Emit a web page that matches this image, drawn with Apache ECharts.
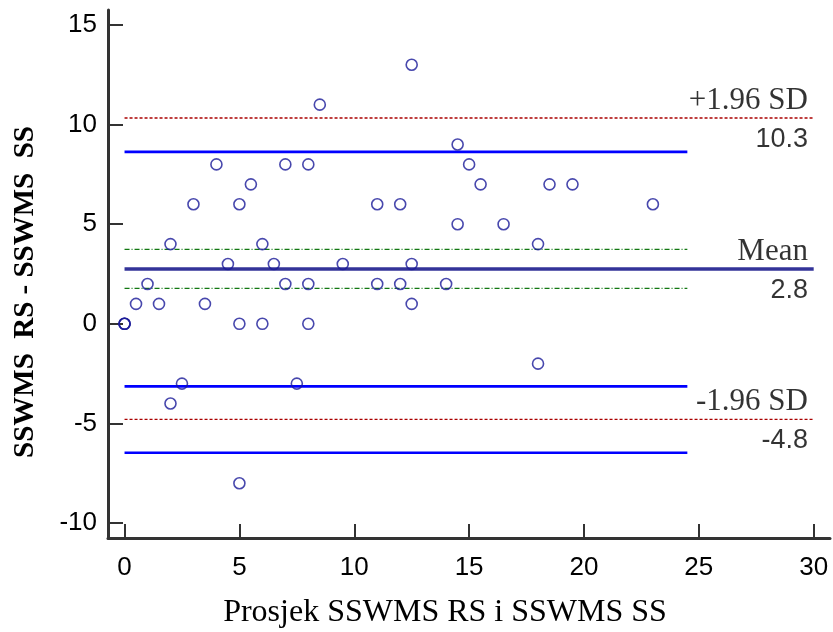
<!DOCTYPE html>
<html>
<head>
<meta charset="utf-8">
<script src="https://cdn.jsdelivr.net/npm/echarts@6/dist/echarts.min.js"></script>
<style>html,body{margin:0;padding:0;background:#fff}#c{width:833px;height:632px}</style>
</head>
<body>
<div id="c"></div>
<script>
// Points: average (x) and difference (y)
const avgValues = [0, 0, 0, 0.5, 1, 1.5, 2, 2, 2.5, 3, 3.5, 4, 4.5, 5, 5, 5, 5.5, 6, 6, 6.5, 7, 7, 7.5, 8, 8, 8, 8.5, 9.5, 11, 11, 12, 12, 12.5, 12.5, 12.5, 14, 14.5, 14.5, 15, 15.5, 16.5, 18, 18, 18.5, 19.5, 23];
const diffValues = [0, 0, 0, 1, 2, 1, 4, -4, -3, 6, 1, 8, 3, 6, 0, -8, 7, 4, 0, 3, 8, 2, -3, 8, 2, 0, 11, 3, 6, 2, 6, 2, 13, 3, 1, 2, 9, 5, 8, 7, 5, 4, -2, 7, 7, 6];

// Reference lines
const meanValue = 2.75;
const upperLoA = 10.33;
const lowerLoA = -4.8;
const meanCI = [3.74, 1.78];
const loaCI = [8.63, -3.14, -6.47];
const fullSpan = [0, 30];
const ciSpan = [0, 24.5];

// Text
const refNames = ['+1.96 SD', 'Mean', '-1.96 SD'];
const refValueLabels = ['10.3', '2.8', '-4.8'];
const xTicks = [0, 5, 10, 15, 20, 25, 30];
const yTicks = [-10, -5, 0, 5, 10, 15];
const xTitle = 'Prosjek SSWMS RS i SSWMS SS';
const yTitle = 'SSWMS  RS - SSWMS  SS';

const SANS = 'Liberation Sans';
const SERIF = 'Liberation Serif';
const axisColor = '#333333';

function hline(v, span, style) {
  return {
    type: 'line', silent: true, symbol: 'none', animation: false,
    data: [[span[0], v], [span[1], v]],
    lineStyle: style, z: 2
  };
}

const refVals = [upperLoA, meanValue, lowerLoA];
const labelX = 29.75;

const series = [];
series.push(hline(upperLoA, fullSpan, {color: '#aa0000', width: 1.3, type: [3, 2]}));
series.push(hline(lowerLoA, fullSpan, {color: '#aa0000', width: 1.3, type: [3, 2]}));
meanCI.forEach(v => series.push(hline(v, ciSpan, {color: '#117711', width: 1.2, type: [5, 2, 1, 2]})));
loaCI.forEach(v => series.push(hline(v, ciSpan, {color: '#0000ff', width: 2.6})));
series.push(hline(meanValue, fullSpan, {color: '#333399', width: 3.5}));

series.push({
  type: 'scatter', animation: false,
  data: avgValues.map((x, i) => [x, diffValues[i]]),
  symbol: 'circle', symbolSize: 11,
  itemStyle: {color: 'rgba(255,255,255,0)', borderColor: '#1a1a99', borderWidth: 1.6},
  z: 5
});

// Name labels above lines
series.push({
  type: 'scatter', silent: true, animation: false, symbolSize: 0,
  data: refVals.map((v, i) => ({value: [labelX, v], name: refNames[i]})),
  label: {show: true, position: 'top', align: 'right', distance: 2,
    formatter: p => p.name, fontFamily: SERIF, fontSize: 31, color: '#000'},
  z: 6
});
// Value labels below lines
series.push({
  type: 'scatter', silent: true, animation: false, symbolSize: 0,
  data: refVals.map((v, i) => ({value: [labelX, v], name: refValueLabels[i]})),
  label: {show: true, position: 'bottom', align: 'right', distance: 8,
    formatter: p => p.name, fontFamily: SANS, fontSize: 27, color: '#000'},
  z: 6
});

const chart = echarts.init(document.getElementById('c'), null, {renderer: 'canvas'});
chart.setOption({
  animation: false,
  backgroundColor: '#fff',
  grid: {left: 108, right: 3, top: 10, bottom: 94, containLabel: false, outerBoundsMode: 'none'},
  xAxis: {
    type: 'value', min: -0.72, max: 30.71,
    name: xTitle, nameLocation: 'middle', nameGap: 59,
    nameTextStyle: {fontFamily: SERIF, fontSize: 32, color: '#000', padding: [0, 48, 0, 0]},
    axisLine: {show: true, onZero: false, lineStyle: {color: axisColor, width: 3}},
    axisTick: {show: true, inside: true, length: 14, customValues: xTicks, lineStyle: {color: axisColor, width: 2}},
    axisLabel: {customValues: xTicks, fontFamily: SANS, fontSize: 26, color: '#000', margin: 17},
    splitLine: {show: false}
  },
  yAxis: {
    type: 'value', min: -10.75, max: 15.75,
    name: yTitle, nameLocation: 'middle', nameGap: 68, nameRotate: 90,
    nameTextStyle: {fontFamily: SERIF, fontSize: 29, fontWeight: 'bold', color: '#000', padding: [0, 36, 0, 0]},
    axisLine: {show: true, onZero: false, lineStyle: {color: axisColor, width: 3}},
    axisTick: {show: true, inside: true, length: 15, customValues: yTicks, lineStyle: {color: axisColor, width: 2}},
    axisLabel: {customValues: yTicks, fontFamily: SANS, fontSize: 26, color: '#000', margin: 11},
    splitLine: {show: false}
  },
  series: series
});
</script>
</body>
</html>
